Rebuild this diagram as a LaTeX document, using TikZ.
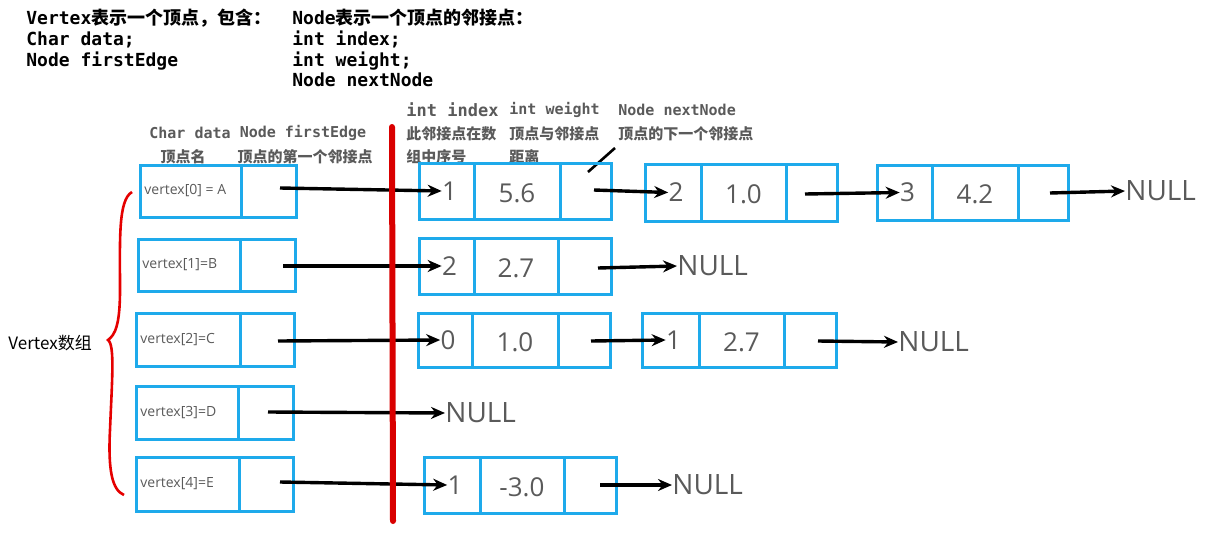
\documentclass[tikz,border=0pt]{standalone}
\usepackage{fontspec}
\setmainfont{Noto Sans CJK SC}
\newfontfamily\cjk{Noto Sans CJK SC}
\newfontfamily\monof{DejaVu Sans Mono}
\newfontfamily\handf{Open Sans}
\usetikzlibrary{arrows.meta}
\definecolor{boxblue}{RGB}{30,170,235}
\definecolor{hgray}{RGB}{90,90,90}
\tikzset{x=0.5pt,y=-0.5pt,
 bx/.style={draw=boxblue,line width=1.5pt},
 ar/.style={-{Stealth[length=7pt,width=6pt]},line width=1.7pt},
 lbl/.style={anchor=west,inner sep=0pt,font=\bfseries\fontsize{9}{10.3}\selectfont},
 hw/.style={font=\handf\fontsize{13}{13}\selectfont,text=hgray,inner sep=0pt},
 vt/.style={font=\handf\fontsize{7}{7}\selectfont,text=hgray,anchor=west,inner sep=0pt},
 nl/.style={font=\handf\fontsize{14}{14}\selectfont,text=hgray,anchor=west,inner sep=0pt}}
\begin{document}
\begin{tikzpicture}
\useasboundingbox (0,0) rectangle (1228,541);
% header text
\node[lbl,anchor=north west,align=left] (h1) at (26,9) {{\monof Vertex}表示一个顶点，包含：\\{\monof Char data;}\\{\monof Node firstEdge}};
\node[lbl,anchor=north west,align=left] (h2) at (292,9) {{\monof Node}表示一个顶点的邻接点：\\{\monof int index;}\\{\monof int weight;}\\{\monof Node nextNode}};
\tikzset{gl/.style={lbl,text=hgray,anchor=center,font=\bfseries\fontsize{7.5}{8}\selectfont}}
\node[gl] (c1) at (190,133) {\monof Char data};
\node[gl] (c2) at (303,133) {\monof Node firstEdge};
\node[gl] (c3) at (183,157) {顶点名};
\node[gl] (c4) at (305,157) {顶点的第一个邻接点};
\node[gl,anchor=west] (d1) at (406,110) {\monof\fontsize{8.5}{9}\selectfont int index};
\node[gl,anchor=west] (d2) at (509,110) {\monof int weight};
\node[gl,anchor=west] (d3) at (618,110) {\monof Node nextNode};
\node[gl,anchor=west] (e1) at (406,134) {此邻接点在数};
\node[gl,anchor=west] (e2) at (406,157) {组中序号};
\node[gl,anchor=west] (e3) at (509,134) {顶点与邻接点};
\node[gl,anchor=west] (e4) at (509,157) {距离};
\node[gl,anchor=west] (e5) at (618,134) {顶点的下一个邻接点};
\coordinate (s1) at (588,172); \coordinate (s2) at (615,148);
\draw[line width=1.3pt] (s1) -- (s2);
% vertex boxes
\foreach \i/\xa/\xd/\xb/\ya/\yb/\t in {0/140/241/296/165/217/{vertex[0] = A},1/138/240/295/239/291/{vertex[1]=B},2/136/240/294/313/366/{vertex[2]=C},3/136/238/293/386/439/{vertex[3]=D},4/136/239/293/457/511/{vertex[4]=E}}{
 \draw[bx] (\xa,\ya) rectangle (\xb,\yb);
 \draw[bx] (\xd,\ya) -- (\xd,\yb);
 \node[vt] (v\i) at (\xa+4,{(\ya+\yb)/2}) {\t};
}
% adjacency boxes
\foreach \n/\xa/\xd/\xe/\xb/\ya/\yb/\p/\q in {a/419/474/560/611/163/219/1/5.6,b/645/701/786/837/164/221/2/1.0,c/877/932/1018/1068/165/220/3/4.2,d/419/474/558/611/238/294/2/2.7,e/418/472/558/610/313/367/0/1.0,f/642/699/784/836/313/367/1/2.7,g/424/480/564/616/457/513/1/-3.0}{
 \draw[bx] (\xa,\ya) rectangle (\xb,\yb);
 \draw[bx] (\xd,\ya) -- (\xd,\yb) (\xe,\ya) -- (\xe,\yb);
 \node[hw] (\n1) at ({(\xa+\xd)/2+3},{(\ya+\yb)/2}) {\p};
 \node[hw] (\n2) at ({(\xd+\xe)/2},{(\ya+\yb)/2+2}) {\q};
}
% NULLs
\node[nl] (n0) at (1125,191) {NULL};
\node[nl] (n1) at (677,266) {NULL};
\node[nl] (n2) at (898,342) {NULL};
\node[nl] (n3) at (445,413) {NULL};
\node[nl] (n4) at (672,485) {NULL};
% arrows
\draw[ar] (280,188) -- (a1.west);
\draw[ar] (594,190) -- (b1.west);
\draw[ar] (805,194) -- (c1.west);
\draw[ar] (1050,193) -- (n0.west);
\draw[ar] (283,266) -- (d1.west);
\draw[ar] (598,268) -- (n1.west);
\draw[ar] (278,341) -- (e1.west);
\draw[ar] (591,341) -- (f1.west);
\draw[ar] (818,341) -- (n2.west);
\draw[ar] (268,412) -- (n3.west);
\draw[ar] (280,482) -- (g1.west);
\draw[ar] (600,485) -- (n4.west);
% red line and brace
\draw[red!85!black,line width=3pt,line cap=round] (392,127) -- (393,521);
\draw[red!90!black,line width=1.3pt] (132,192) .. controls (118,200) and (120,240) .. (120,290) .. controls (120,325) and (115,335) .. (108,340) .. controls (115,345) and (112,380) .. (110,430) .. controls (108,470) and (112,490) .. (124,495);
\node[anchor=west,inner sep=0pt,font=\fontsize{8.5}{9}\selectfont] (vl) at (8,343) {Vertex数组};
\end{tikzpicture}
\end{document}
